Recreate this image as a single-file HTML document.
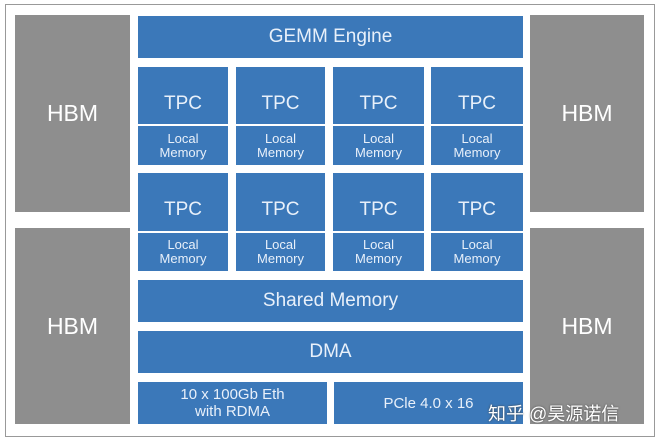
<html><body style="margin:0;width:660px;height:442px;background:#fff;position:relative;font-family:'Liberation Sans','Noto Sans CJK SC',sans-serif;overflow:hidden">
<style>
.b{position:absolute;background:#3b78b9;color:#e8f0fa;display:flex;align-items:center;justify-content:center;text-align:center}
.g{position:absolute;background:#8e8e8e;color:#fff;display:flex;align-items:center;justify-content:center;font-size:23px}
.t{font-size:19px;box-sizing:border-box;padding-top:16px}.l{font-size:13px;line-height:14px}
</style>
<div style="position:absolute;left:5px;top:4px;width:648px;height:431px;border:1px solid #999"></div>
<div class="g" style="left:15px;top:15px;width:115px;height:197px">HBM</div>
<div class="g" style="left:15px;top:228px;width:115px;height:196px">HBM</div>
<div class="g" style="left:530px;top:15px;width:114px;height:197px">HBM</div>
<div class="g" style="left:530px;top:228px;width:114px;height:196px">HBM</div>
<div class="b" style="left:138px;top:16px;width:385px;height:42px;font-size:19px">GEMM Engine</div>
<div class="b t" style="left:138px;top:67px;width:90px;height:57px">TPC</div>
<div class="b l" style="left:138px;top:126px;width:90px;height:39px">Local<br>Memory</div>
<div class="b t" style="left:236px;top:67px;width:89px;height:57px">TPC</div>
<div class="b l" style="left:236px;top:126px;width:89px;height:39px">Local<br>Memory</div>
<div class="b t" style="left:333px;top:67px;width:91px;height:57px">TPC</div>
<div class="b l" style="left:333px;top:126px;width:91px;height:39px">Local<br>Memory</div>
<div class="b t" style="left:431px;top:67px;width:92px;height:57px">TPC</div>
<div class="b l" style="left:431px;top:126px;width:92px;height:39px">Local<br>Memory</div>
<div class="b t" style="left:138px;top:173px;width:90px;height:58px">TPC</div>
<div class="b l" style="left:138px;top:233px;width:90px;height:38px">Local<br>Memory</div>
<div class="b t" style="left:236px;top:173px;width:89px;height:58px">TPC</div>
<div class="b l" style="left:236px;top:233px;width:89px;height:38px">Local<br>Memory</div>
<div class="b t" style="left:333px;top:173px;width:91px;height:58px">TPC</div>
<div class="b l" style="left:333px;top:233px;width:91px;height:38px">Local<br>Memory</div>
<div class="b t" style="left:431px;top:173px;width:92px;height:58px">TPC</div>
<div class="b l" style="left:431px;top:233px;width:92px;height:38px">Local<br>Memory</div>
<div class="b" style="left:138px;top:280px;width:385px;height:42px;font-size:19px">Shared Memory</div>
<div class="b" style="left:138px;top:331px;width:385px;height:42px;font-size:19px">DMA</div>
<div class="b" style="left:138px;top:382px;width:189px;height:42px;font-size:15px;line-height:17px">10 x 100Gb Eth<br>with RDMA</div>
<div class="b" style="left:334px;top:382px;width:189px;height:42px;font-size:15px">PCle 4.0 x 16</div>
<div style="position:absolute;left:488px;top:400px;font-size:18px;color:#fff;text-shadow:0 0 2px #444">知乎 @昊源诺信</div>
</body></html>
